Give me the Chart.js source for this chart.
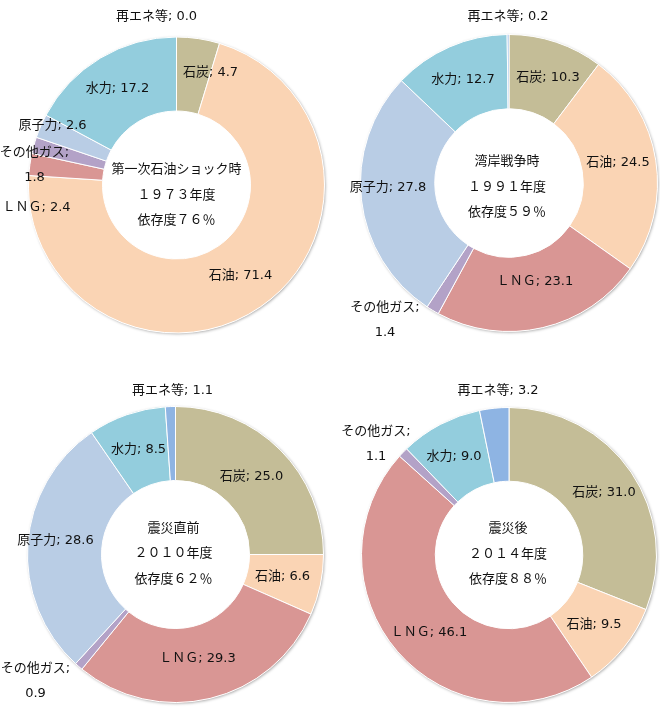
<!DOCTYPE html>
<html>
<head>
<meta charset="utf-8">
<script src="https://cdn.jsdelivr.net/npm/chart.js@4/dist/chart.umd.min.js"></script>
<style>
  body { margin: 0; background: #fff; }
  #wrap { position: relative; width: 660px; height: 715px; }
  canvas { position: absolute; }
</style>
</head>
<body>
<div id="wrap">
  <canvas id="c1" width="330" height="370" style="left:0;top:0"></canvas>
  <canvas id="c2" width="330" height="370" style="left:330px;top:0"></canvas>
  <canvas id="c3" width="330" height="345" style="left:0;top:370px"></canvas>
  <canvas id="c4" width="330" height="345" style="left:330px;top:370px"></canvas>
</div>
<script>
// categories, clockwise from 12 o'clock
const categories = ['石炭', '石油', 'ＬＮＧ', 'その他ガス', '原子力', '水力', '再エネ等'];
const colors = ['#C4BD97', '#FAD4B4', '#D99694', '#B3A2C7', '#B9CDE5', '#93CDDD', '#8EB4E3'];

// shares of primary energy supply (%)
const values1973 = [4.7, 71.4, 2.4, 1.8, 2.6, 17.2, 0.0];
const values1991 = [10.3, 24.5, 23.1, 1.4, 27.8, 12.7, 0.2];
const values2010 = [25.0, 6.6, 29.3, 0.9, 28.6, 8.5, 1.1];
const values2014 = [31.0, 9.5, 46.1, 1.1, 0.0, 9.0, 3.2];

// center captions
const title1973 = ['第一次石油ショック時', '１９７３年度', '依存度７６％'];
const title1991 = ['湾岸戦争時', '１９９１年度', '依存度５９％'];
const title2010 = ['震災直前', '２０１０年度', '依存度６２％'];
const title2014 = ['震災後', '２０１４年度', '依存度８８％'];

// label placement (offset from ring center, px); split = name and value on two lines
const labels1973 = [[34, -112], [64, 91], [-140, 23], [-142, -32, 'split'], [-124, -59], [-59, -96], [-20, -168]];
const labels1991 = [[39, -105], [109, -20], [26, 99], [-124, 125, 'split'], [-121, 5], [-46, -103], [-1, -166]];
const labels2010 = [[76, -78], [107, 22], [22, 104], [-140, 114, 'split'], [-120, -14], [-37, -105], [-3, -164]];
const labels2014 = [[95, -62], [85, 70], [-80, 78], [-133, -123, 'split'], null, [-55, -98], [-11, -164]];

const FONT = '13px "DejaVu Sans", "Noto Sans CJK JP", sans-serif';
const TEXT = '#111';

const ringShadow = {
  id: 'ringShadow',
  beforeDatasetsDraw(chart) {
    const arc = chart.getDatasetMeta(0).data[0];
    const ctx = chart.ctx;
    ctx.save();
    ctx.shadowColor = 'rgba(0,0,0,0.35)';
    ctx.shadowBlur = 3;
    ctx.shadowOffsetX = 1;
    ctx.shadowOffsetY = 1;
    ctx.fillStyle = '#fff';
    ctx.beginPath();
    ctx.arc(arc.x, arc.y, arc.outerRadius, 0, Math.PI * 2);
    ctx.fill();
    ctx.restore();
  }
};

const textPlugin = {
  id: 'texts',
  afterDatasetsDraw(chart, args, opts) {
    const ctx = chart.ctx;
    const meta = chart.getDatasetMeta(0);
    const cx = meta.data[0].x, cy = meta.data[0].y;
    const vals = chart.data.datasets[0].data;
    ctx.save();
    ctx.font = FONT;
    ctx.fillStyle = TEXT;
    ctx.textAlign = 'center';
    ctx.textBaseline = 'middle';
    opts.pos.forEach((p, i) => {
      if (!p) return;
      const name = chart.data.labels[i];
      const v = vals[i].toFixed(1);
      if (p[2] === 'split') {
        ctx.fillText(name + ';', cx + p[0], cy + p[1]);
        ctx.fillText(v, cx + p[0], cy + p[1] + 25);
      } else {
        ctx.fillText(name + '; ' + v, cx + p[0], cy + p[1]);
      }
    });
    opts.title.forEach((t, k) => {
      ctx.fillText(t, cx + opts.tx, cy + opts.ty + k * 25.5);
    });
    ctx.restore();
  }
};

function makeDonut(id, values, title, pos, pad, tx, ty) {
  new Chart(document.getElementById(id), {
    type: 'doughnut',
    data: {
      labels: categories,
      datasets: [{
        data: values,
        backgroundColor: colors,
        borderColor: '#fff',
        borderWidth: 1
      }]
    },
    options: {
      responsive: false,
      animation: false,
      cutout: '50%',
      layout: { padding: pad },
      plugins: {
        legend: { display: false },
        tooltip: { enabled: false },
        texts: { pos: pos, title: title, tx: tx, ty: ty }
      }
    },
    plugins: [ringShadow, textPlugin]
  });
}

makeDonut('c1', values1973, title1973, labels1973, { left: 28, right: 5, top: 36, bottom: 36 }, 0, -15);
makeDonut('c2', values1991, title1991, labels1991, { left: 30, right: 2, top: 34, bottom: 38 }, -2, -21);
makeDonut('c3', values2010, title2010, labels2010, { left: 27, right: 6, top: 36, bottom: 12 }, -2, -26);
makeDonut('c4', values2014, title2014, labels2014, { left: 31, right: 3, top: 37, bottom: 12 }, -1, -26);
</script>
</body>
</html>
